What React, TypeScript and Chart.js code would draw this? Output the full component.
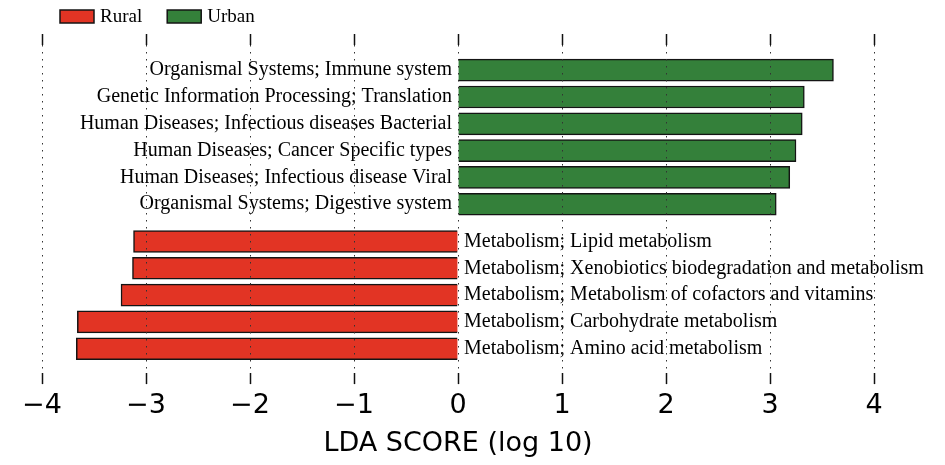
import { useEffect, useRef } from 'react';
import { Chart, registerables } from 'chart.js';

Chart.register(...registerables);

const urbanLabels = [
  'Organismal Systems; Immune system',
  'Genetic Information Processing; Translation',
  'Human Diseases; Infectious diseases Bacterial',
  'Human Diseases; Cancer Specific types',
  'Human Diseases; Infectious disease Viral',
  'Organismal Systems; Digestive system',
];
const urbanScores = [3.61, 3.33, 3.31, 3.25, 3.19, 3.06];

const ruralLabels = [
  'Metabolism; Lipid metabolism',
  'Metabolism; Xenobiotics biodegradation and metabolism',
  'Metabolism; Metabolism of cofactors and vitamins',
  'Metabolism; Carbohydrate metabolism',
  'Metabolism; Amino acid metabolism',
];
const ruralScores = [-3.12, -3.13, -3.24, -3.66, -3.67];

const xTickValues = [-4, -3, -2, -1, 0, 1, 2, 3, 4];

const RED = '#e23424';
const GREEN = '#34803a';
const EDGE = '#141414';
const SERIF = '"Liberation Serif", "Times New Roman", serif';
const SANS = '"DejaVu Sans", sans-serif';

const GROUP_GAP = 0.39;

export default function App() {
  const ref = useRef<HTMLCanvasElement | null>(null);

  useEffect(() => {
    if (!ref.current) return;
    const ruralOffset = urbanLabels.length + GROUP_GAP;

    const barLabels = {
      id: 'barLabels',
      afterDatasetsDraw(chart: any) {
        const ctx = chart.ctx;
        const zero = chart.scales.x.getPixelForValue(0);
        ctx.save();
        ctx.font = `20px ${SERIF}`;
        ctx.fillStyle = '#000';
        ctx.textBaseline = 'middle';
        chart.data.datasets.forEach((ds: any, di: number) => {
          const meta = chart.getDatasetMeta(di);
          meta.data.forEach((el: any, i: number) => {
            const v = ds.data[i].x;
            const text = ds.names[i];
            if (v >= 0) {
              ctx.textAlign = 'right';
              ctx.fillText(text, zero - 6, el.y);
            } else {
              ctx.textAlign = 'left';
              ctx.fillText(text, zero + 6, el.y);
            }
          });
        });
        ctx.restore();
      },
    };

    const extras = {
      id: 'extras',
      afterDraw(chart: any) {
        const ctx = chart.ctx;
        const xs = chart.scales.x;
        const top = chart.chartArea.top;
        ctx.save();
        ctx.strokeStyle = '#111';
        ctx.lineWidth = 1.5;
        xs.ticks.forEach((t: any) => {
          const px = Math.round(xs.getPixelForValue(t.value)) + 0.5;
          ctx.beginPath();
          ctx.moveTo(px, top - 11);
          ctx.lineTo(px, top);
          ctx.stroke();
        });
        ctx.font = `19px ${SERIF}`;
        ctx.textBaseline = 'middle';
        ctx.textAlign = 'left';
        let x = 60;
        const y = 10;
        chart.data.datasets.forEach((ds: any) => {
          ctx.fillStyle = ds.backgroundColor;
          ctx.fillRect(x, y, 34, 13);
          ctx.strokeStyle = EDGE;
          ctx.lineWidth = 1.5;
          ctx.strokeRect(x, y, 34, 13);
          ctx.fillStyle = '#000';
          ctx.fillText(ds.label, x + 40, y + 7);
          x += 40 + ctx.measureText(ds.label).width + 25;
        });
        ctx.restore();
      },
    };

    const chart = new Chart(ref.current, {
      type: 'bar',
      data: {
        datasets: [
          {
            label: 'Rural',
            names: ruralLabels,
            data: ruralScores.map((v, j) => ({ x: v, y: ruralOffset + j })),
            backgroundColor: RED,
            borderColor: EDGE,
            borderWidth: 1.5,
            barThickness: 22,
            grouped: false,
          } as any,
          {
            label: 'Urban',
            names: urbanLabels,
            data: urbanScores.map((v, i) => ({ x: v, y: i })),
            backgroundColor: GREEN,
            borderColor: EDGE,
            borderWidth: 1.5,
            barThickness: 22,
            grouped: false,
          } as any,
        ],
      },
      options: {
        animation: false,
        responsive: true,
        maintainAspectRatio: false,
        indexAxis: 'y',
        layout: { padding: { left: 42, right: 71, top: 45, bottom: 0 } },
        plugins: {
          legend: { display: false },
          tooltip: { enabled: false },
        },
        scales: {
          x: {
            type: 'linear',
            min: -4,
            max: 4,
            afterBuildTicks: (s: any) => {
              s.ticks = xTickValues.map((v) => ({ value: v }));
            },
            ticks: {
              callback: (v: any) => String(v).replace('-', '\u2212'),
              font: { family: SANS, size: 27 },
              color: '#000',
              padding: 6,
              maxRotation: 0,
            },
            grid: {
              color: '#333',
              lineWidth: 1,
              z: 1,
              drawTicks: true,
              tickLength: 11,
              tickColor: '#111',
              tickWidth: 1.5,
              tickBorderDash: [],
            },
            border: { display: false, dash: [1.5, 5.5] },
            title: {
              display: true,
              text: 'LDA SCORE (log 10)',
              font: { family: SANS, size: 27, lineHeight: 1.0 },
              color: '#000',
              padding: { top: 2, bottom: 7.5 },
            },
          },
          y: {
            type: 'linear',
            reverse: true,
            offset: false,
            min: -0.94,
            max: 11.3,
            display: false,
          },
        },
      } as any,
      plugins: [barLabels, extras],
    });

    return () => chart.destroy();
  }, []);

  return (
    <div style={{ position: 'fixed', left: 0, top: 0, width: 945, height: 465, background: '#fff' }}>
      <canvas ref={ref} />
    </div>
  );
}
